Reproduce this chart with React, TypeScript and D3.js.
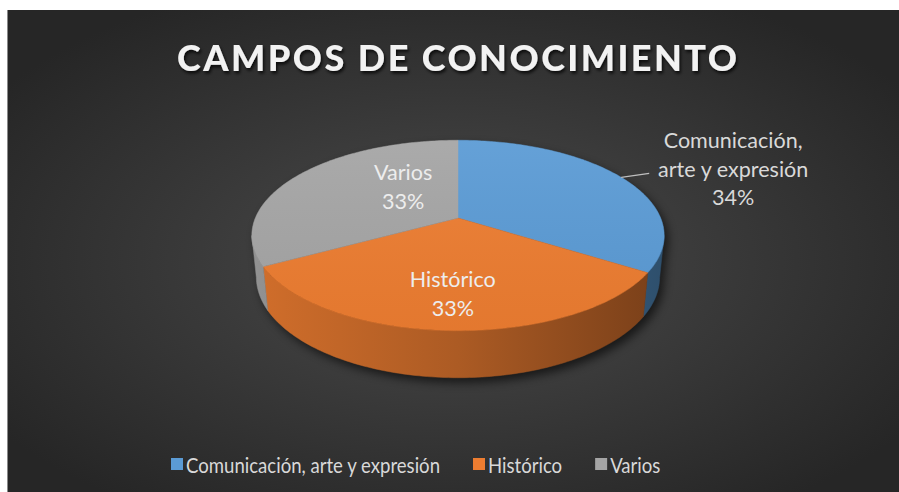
import React, { useEffect, useRef } from 'react';
import * as d3 from 'd3';

// chart data
const title = 'CAMPOS DE CONOCIMIENTO';
const categories = ['Comunicación, arte y expresión', 'Histórico', 'Varios'];
const values = [34, 33, 33];
const labelLines = [['Comunicación,', 'arte y expresión'], ['Histórico'], ['Varios']];

const palette = ['#5b9bd5', '#ed7d31', '#a5a5a5'];

// simple perspective camera for the 3D pie
const cam = { cx: 458, cy: 218, f: 985, dist: 4.86, tilt: (27 * Math.PI) / 180, depth: 0.232 };

const project = (theta: number, r: number, y: number): [number, number] => {
  const X = r * Math.sin(theta);
  const Z = -r * Math.cos(theta);
  const s = Math.sin(cam.tilt);
  const c = Math.cos(cam.tilt);
  const d = cam.dist - Z * c - y * s;
  return [cam.cx + (cam.f * X) / d, cam.cy + (cam.f * (Z * s - y * c)) / d];
};

const sample = (t0: number, t1: number, r: number, y: number) => {
  const n = Math.max(2, Math.ceil((t1 - t0) / (Math.PI / 180)));
  return d3.range(n + 1).map(i => project(t0 + ((t1 - t0) * i) / n, r, y));
};

const App = () => {
  const ref = useRef<SVGSVGElement>(null);

  useEffect(() => {
    const svg = d3.select(ref.current);
    svg.selectAll('*').remove();
    const defs = svg.append('defs');

    // background
    svg.append('rect').attr('width', 899).attr('height', 492).attr('fill', '#fff');
    const bg = defs.append('radialGradient').attr('id', 'bg').attr('cx', 0.5).attr('cy', 0.52).attr('r', 0.62);
    bg.append('stop').attr('offset', 0).attr('stop-color', '#4b4b4b');
    bg.append('stop').attr('offset', 1).attr('stop-color', '#262626');
    svg.append('rect').attr('x', 7).attr('y', 10).attr('width', 892).attr('height', 482).attr('fill', 'url(#bg)');
    svg.append('line').attr('x1', 7.5).attr('x2', 7.5).attr('y1', 10).attr('y2', 492)
      .attr('stroke', '#8a8a8a').attr('stroke-width', 1);

    // title
    const ts = defs.append('filter').attr('id', 'tshadow').attr('x', '-10%').attr('y', '-30%').attr('width', '120%').attr('height', '160%');
    ts.append('feDropShadow').attr('dx', 1.5).attr('dy', 2.5).attr('stdDeviation', 1.5)
      .attr('flood-color', '#000').attr('flood-opacity', 0.75);
    svg.append('text')
      .attr('x', 457).attr('y', 71)
      .attr('text-anchor', 'middle')
      .attr('font-family', 'Lato, sans-serif')
      .attr('font-weight', 900)
      .attr('font-size', 36)
      .attr('fill', '#f2f2f2')
      .attr('textLength', 560)
      .attr('lengthAdjust', 'spacing')
      .attr('filter', 'url(#tshadow)')
      .text(title);

    // pie geometry
    const pie = d3.pie<number>().sort(null).value(d => d);
    const arcs = pie(values);
    const line = d3.line();
    const c = Math.cos(cam.tilt);
    const thetaR = Math.acos(-c / cam.dist);
    const thetaL = 2 * Math.PI - thetaR;
    const xLeft = project(thetaL, 1, 0)[0];
    const xRight = project(thetaR, 1, 0)[0];

    // shadow under the pie
    const blur = defs.append('filter').attr('id', 'pshadow').attr('x', '-20%').attr('y', '-20%').attr('width', '140%').attr('height', '140%');
    blur.append('feGaussianBlur').attr('stdDeviation', 5);
    const sh = svg.append('g').attr('filter', 'url(#pshadow)').attr('transform', 'translate(4,5)').attr('opacity', 0.6);
    sh.append('path').attr('d', line(sample(0, 2 * Math.PI, 1, 0)) + 'Z').attr('fill', '#000');
    sh.append('path')
      .attr('d', line([...sample(thetaR, thetaL, 1, 0), ...sample(thetaR, thetaL, 1, -cam.depth).reverse()]) + 'Z')
      .attr('fill', '#000');

    // side walls
    arcs.forEach((a, i) => {
      const t0 = Math.max(a.startAngle, thetaR);
      const t1 = Math.min(a.endAngle, thetaL);
      if (t0 >= t1) return;
      const base = d3.color(palette[i])!;
      const g = defs.append('linearGradient').attr('id', `side${i}`)
        .attr('gradientUnits', 'userSpaceOnUse')
        .attr('x1', xLeft).attr('x2', xRight).attr('y1', 0).attr('y2', 0);
      [[0, 0.35], [0.5, 0.9], [1, 1.9]].forEach(([o, k]) => {
        g.append('stop').attr('offset', o).attr('stop-color', base.darker(k).formatHex());
      });
      const pts = [...sample(t0, t1, 1, 0), ...sample(t0, t1, 1, -cam.depth).reverse()];
      svg.append('path').attr('d', line(pts) + 'Z')
        .attr('fill', `url(#side${i})`)
        .attr('stroke', `url(#side${i})`).attr('stroke-width', 0.5);
    });

    // top faces
    arcs.forEach((a, i) => {
      const pts = [project(0, 0, 0), ...sample(a.startAngle, a.endAngle, 1, 0)];
      svg.append('path').attr('d', line(pts) + 'Z')
        .attr('fill', palette[i]).attr('stroke', palette[i]).attr('stroke-width', 0.5);
    });
    const hl = defs.append('linearGradient').attr('id', 'hl').attr('x1', 0).attr('x2', 0).attr('y1', 0).attr('y2', 1);
    hl.append('stop').attr('offset', 0).attr('stop-color', '#fff').attr('stop-opacity', 0.06);
    hl.append('stop').attr('offset', 1).attr('stop-color', '#000').attr('stop-opacity', 0.04);
    svg.append('path').attr('d', line(sample(0, 2 * Math.PI, 1, 0)) + 'Z').attr('fill', 'url(#hl)');

    // data labels
    const placement = [
      { dTheta: 0, r: 1, outside: true },
      { dTheta: 0, r: 0.71, outside: false },
      { dTheta: (21.5 * Math.PI) / 180, r: 0.47, outside: false },
    ];
    const lineH = 28.5;
    const labels = svg.append('g')
      .attr('font-family', 'Lato, sans-serif')
      .attr('font-size', 22)
      .attr('text-anchor', 'middle');

    // horizontal squeeze so Lato matches the narrower original face
    const probe = labels.append('text').text(labelLines[1][0]);
    const squeeze = 86 / (probe.node() as SVGTextElement).getComputedTextLength();
    probe.remove();

    arcs.forEach((a, i) => {
      const mid = (a.startAngle + a.endAngle) / 2;
      const p = placement[i];
      const pct = `${Math.round((values[i] / d3.sum(values)) * 100)}%`;
      const lines = [...labelLines[i], pct];
      let cx: number, cy: number, fill: string;
      if (p.outside) {
        const s = project(mid, 1, 0);
        const e: [number, number] = [s[0] + 28, s[1] - 4];
        labels.append('path').attr('d', line([s, e])).attr('stroke', '#bfbfbf').attr('stroke-width', 1.3).attr('fill', 'none');
        cx = e[0] + 84;
        cy = e[1] - 5;
        fill = '#d9d9d9';
      } else {
        [cx, cy] = project(mid + p.dTheta, p.r, 0);
        fill = '#ededed';
      }
      const top = cy - ((lines.length - 1) * lineH) / 2;
      lines.forEach((t, j) => {
        const el = labels.append('text')
          .attr('x', cx).attr('y', top + j * lineH)
          .attr('dominant-baseline', 'central')
          .attr('fill', fill)
          .text(t);
        const w = (el.node() as SVGTextElement).getComputedTextLength();
        el.attr('textLength', w * squeeze).attr('lengthAdjust', 'spacingAndGlyphs');
      });
    });

    // legend
    const legend = svg.append('g')
      .attr('font-family', 'Lato, sans-serif')
      .attr('font-size', 21);
    const lprobe = legend.append('text').text(categories[0]);
    const lsqueeze = 254 / (lprobe.node() as SVGTextElement).getComputedTextLength();
    lprobe.remove();
    let x = 171;
    categories.forEach((name, i) => {
      legend.append('rect').attr('x', x).attr('y', 458).attr('width', 12).attr('height', 12).attr('fill', palette[i]);
      const el = legend.append('text')
        .attr('x', x + 15).attr('y', 464)
        .attr('dominant-baseline', 'central')
        .attr('fill', '#d9d9d9')
        .text(name);
      const w = (el.node() as SVGTextElement).getComputedTextLength() * lsqueeze;
      el.attr('textLength', w).attr('lengthAdjust', 'spacingAndGlyphs');
      x += 15 + w + 33;
    });
  }, []);

  return (
    <svg ref={ref} width={899} height={492} style={{ position: 'absolute', left: 0, top: 0 }}></svg>
  );
};

export default App;
